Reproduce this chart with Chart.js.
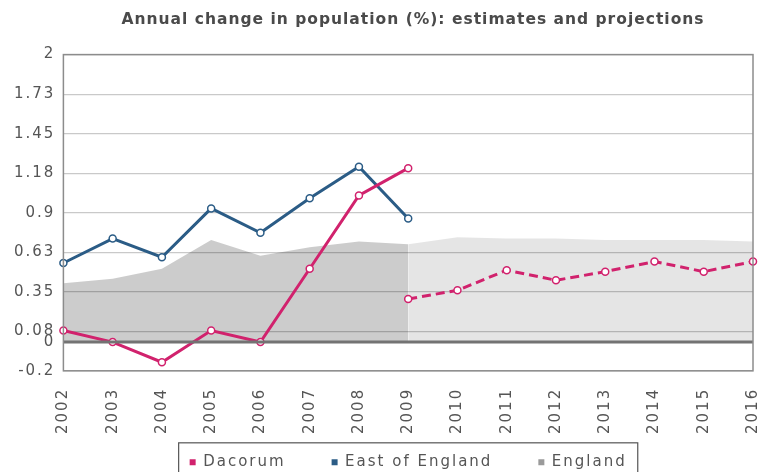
<!DOCTYPE html>
<html>
<head>
<meta charset="utf-8">
<script src="https://cdn.jsdelivr.net/npm/chart.js@4/dist/chart.umd.min.js"></script>
<style>
  html, body { margin: 0; padding: 0; background: #fff; }
  #wrap { width: 760px; height: 472px; position: relative; }
</style>
</head>
<body>
<div id="wrap"><canvas id="grafico"></canvas></div>
<script>
// categories
const anos = ['2002', '2003', '2004', '2005', '2006', '2007', '2008', '2009',
              '2010', '2011', '2012', '2013', '2014', '2015', '2016'];

// Dacorum: estimates then projections (dashed)
const dacorumEst = [0.08, 0.0, -0.14, 0.08, 0.0, 0.51, 1.02, 1.21,
                    null, null, null, null, null, null, null];
const dacorumProj = [null, null, null, null, null, null, null, 0.30,
                     0.36, 0.50, 0.43, 0.49, 0.56, 0.49, 0.56];

// East of England estimates
const eastEst = [0.55, 0.72, 0.59, 0.93, 0.76, 1.0, 1.22, 0.86,
                 null, null, null, null, null, null, null];

// England (area): estimates then projections
const englandEst = [0.41, 0.44, 0.51, 0.71, 0.60, 0.66, 0.70, 0.68,
                    null, null, null, null, null, null, null];
const englandProj = [null, null, null, null, null, null, null, 0.68,
                     0.73, 0.72, 0.72, 0.71, 0.71, 0.71, 0.70];

// y axis ticks
const yTickValues = [-0.2, 0, 0.075, 0.35, 0.625, 0.9, 1.175, 1.45, 1.725, 2];
const yTickLabels = ['-0.2', '0', '0.08', '0.35', '0.63', '0.9', '1.18', '1.45', '1.73', '2'];

const rosa = '#d1226d';
const azul = '#2b5c86';
const cinza = 'rgba(0, 0, 0, 0.2)';
const cinzaClaro = 'rgba(0, 0, 0, 0.1)';
const coresLegenda = [rosa, azul, '#9a9a9a'];

const espaco = '2px';

const molduraPlugin = {
    id: 'moldura',
    beforeUpdate(chart) {
        chart.ctx.letterSpacing = espaco;
    },
    beforeDraw(chart) {
        chart.ctx.letterSpacing = espaco;
    },
    afterLayout(chart) {
        // legenda logo abaixo dos rótulos do eixo x, centrada no gráfico
        const lg = chart.legend;
        const a = chart.chartArea;
        const pad = lg.options.labels.padding;
        const h = lg.bottom - lg.top;
        lg.top = a.bottom + 84 - pad;
        lg.bottom = lg.top + h;
        const desvio = (a.left + a.right) / 2 - (lg.left + lg.right) / 2;
        lg.left += desvio;
        lg.right += desvio;
        // o título com menos espaço entre letras
        const tb = chart.titleBlock;
        if (tb && !tb._semEspaco) {
            const desenho = tb.draw.bind(tb);
            tb.draw = function () {
                const c = chart.ctx;
                const antes = c.letterSpacing;
                c.letterSpacing = '1px';
                desenho();
                c.letterSpacing = antes;
            };
            tb._semEspaco = true;
        }
    },
    afterDatasetsDraw(chart) {
        const ctx = chart.ctx;
        const a = chart.chartArea;
        const y0 = chart.scales.y.getPixelForValue(0);
        ctx.save();
        ctx.strokeStyle = '#737373';
        ctx.lineWidth = 3;
        ctx.beginPath();
        ctx.moveTo(a.left, y0);
        ctx.lineTo(a.right, y0);
        ctx.stroke();
        ctx.restore();
    },
    afterDraw(chart) {
        const ctx = chart.ctx;
        const a = chart.chartArea;
        ctx.save();
        ctx.strokeStyle = '#8c8c8c';
        ctx.lineWidth = 1.5;
        ctx.strokeRect(a.left, a.top, a.right - a.left, a.bottom - a.top);
        // caixa da legenda
        const boxes = chart.legend.legendHitBoxes;
        if (boxes && boxes.length) {
            const l = Math.min(...boxes.map(b => b.left)) - 11;
            const r = Math.max(...boxes.map(b => b.left + b.width)) + 11;
            const t = Math.min(...boxes.map(b => b.top)) - 12;
            ctx.strokeStyle = '#555';
            ctx.lineWidth = 1.2;
            ctx.strokeRect(l, t, r - l, 60);
        }
        ctx.restore();
    }
};

const ctx = document.getElementById('grafico').getContext('2d');

new Chart(ctx, {
    type: 'line',
    data: {
        labels: anos,
        datasets: [
            {
                label: 'Dacorum',
                data: dacorumEst,
                borderColor: rosa,
                backgroundColor: rosa,
                borderWidth: 3,
                pointRadius: 3.5,
                pointBackgroundColor: '#fff',
                pointBorderColor: rosa,
                pointBorderWidth: 1.5,
                fill: false,
                tension: 0,
                order: 1
            },
            {
                label: 'East of England',
                data: eastEst,
                borderColor: azul,
                backgroundColor: azul,
                borderWidth: 3,
                pointRadius: 3.5,
                pointBackgroundColor: '#fff',
                pointBorderColor: azul,
                pointBorderWidth: 1.5,
                fill: false,
                tension: 0,
                order: 2
            },
            {
                label: 'England',
                data: englandEst,
                borderWidth: 0,
                borderColor: cinza,
                backgroundColor: cinza,
                pointRadius: 0,
                fill: 'origin',
                tension: 0,
                order: 4
            },
            {
                label: 'Dacorum projections',
                data: dacorumProj,
                borderColor: rosa,
                backgroundColor: rosa,
                borderWidth: 3,
                borderDash: [9, 5],
                pointRadius: 3.5,
                pointBackgroundColor: '#fff',
                pointBorderColor: rosa,
                pointBorderWidth: 1.5,
                fill: false,
                tension: 0,
                order: 0
            },
            {
                label: 'England projections',
                data: englandProj,
                borderWidth: 0,
                borderColor: cinzaClaro,
                backgroundColor: cinzaClaro,
                pointRadius: 0,
                fill: 'origin',
                tension: 0,
                order: 5
            }
        ]
    },
    options: {
        responsive: true,
        maintainAspectRatio: false,
        animation: false,
        layout: { padding: { left: 6, right: -60, top: 0, bottom: -42 } },
        plugins: {
            title: {
                display: true,
                text: 'Annual change in population (%): estimates and projections',
                color: '#4a4a4a',
                font: { family: 'DejaVu Sans', size: 15.5, weight: 'bold' },
                padding: { top: 11, bottom: 25 }
            },
            legend: {
                position: 'bottom',
                labels: {
                    filter: item => item.datasetIndex < 3,
                    usePointStyle: true,
                    pointStyle: 'rect',
                    boxWidth: 6,
                    boxHeight: 6,
                    padding: 46,
                    color: '#555',
                    font: { family: 'DejaVu Sans', size: 15 },
                    generateLabels(chart) {
                        return Chart.defaults.plugins.legend.labels.generateLabels(chart)
                            .sort((p, q) => p.datasetIndex - q.datasetIndex)
                            .map(it => {
                                const cor = coresLegenda[it.datasetIndex] || it.fillStyle;
                                it.fillStyle = cor;
                                it.strokeStyle = cor;
                                it.lineWidth = 0;
                                it.lineDash = [];
                                it.pointStyle = 'rect';
                                return it;
                            });
                    }
                }
            },
            tooltip: { enabled: false }
        },
        scales: {
            x: {
                offset: false,
                grid: { display: false },
                border: { display: false },
                afterFit(scale) {
                    // o último rótulo pode sair pela borda, como no original
                    scale.paddingRight = 7;
                },
                ticks: {
                    minRotation: 90,
                    maxRotation: 90,
                    autoSkip: false,
                    color: '#555',
                    font: { family: 'DejaVu Sans', size: 15 },
                    padding: 9
                }
            },
            y: {
                min: -0.2,
                max: 2,
                border: { display: false },
                afterBuildTicks(axis) {
                    axis.ticks = yTickValues.map(v => ({ value: v }));
                },
                grid: {
                    color: '#c9c9c9',
                    lineWidth: 1.2,
                    drawTicks: false
                },
                ticks: {
                    autoSkip: false,
                    color: '#555',
                    font: { family: 'DejaVu Sans', size: 15 },
                    padding: 8,
                    callback: (value, index) => yTickLabels[index]
                }
            }
        }
    },
    plugins: [molduraPlugin]
});
</script>
</body>
</html>
